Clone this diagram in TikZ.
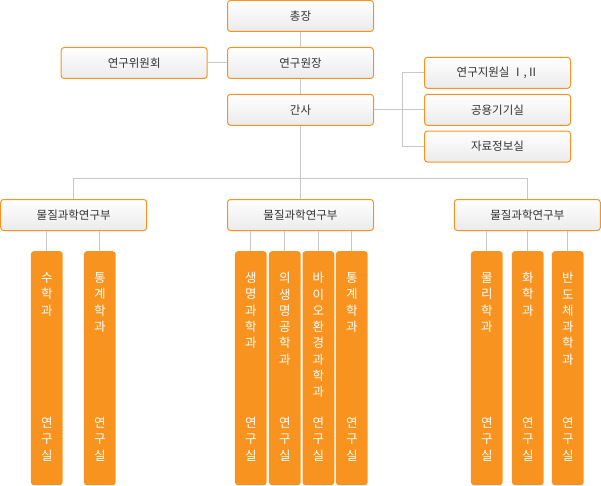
\documentclass[tikz,border=0pt]{standalone}
\usepackage{fontspec}
\setmainfont{Noto Sans CJK KR}
\definecolor{orgC}{HTML}{F7931E}
\definecolor{lineC}{HTML}{C8C8C8}
\definecolor{txtC}{HTML}{333333}
\begin{document}
\begin{tikzpicture}[x=1pt,y=-1pt,
  box/.style={draw=orgC, line width=1pt, rounded corners=3pt, minimum width=146pt, minimum height=31pt, inner sep=0pt, top color=white, bottom color=black!8, text=txtC, font=\fontsize{11.5pt}{14pt}\selectfont},
  bar/.style={fill=orgC, draw=none, rounded corners=3pt, minimum width=31.7pt, minimum height=234pt, inner sep=0pt, anchor=north},
  bartext/.style={text=white, align=center, inner sep=0pt, font=\fontsize{12.5pt}{16.3pt}\selectfont},
  conn/.style={draw=lineC, line width=1pt}
]
\useasboundingbox (0,0) rectangle (601,486);
% top boxes
\node[box] (pres) at (300.5,16) {총장};
\node[box] (dir) at (300.5,63) {연구원장};
\node[box] (comm) at (134.2,63) {연구위원회};
\node[box] (sec) at (300.5,109.8) {간사};
\node[box] (sup1) at (497.5,72.8) {연구지원실 Ⅰ,Ⅱ};
\node[box] (sup2) at (497.5,109.8) {공용기기실};
\node[box] (sup3) at (497.5,146.6) {자료정보실};
% division boxes
\node[box] (div1) at (73.7,215) {물질과학연구부};
\node[box] (div2) at (300.5,215) {물질과학연구부};
\node[box] (div3) at (527.3,215) {물질과학연구부};
\coordinate (jx) at (402,0);
\coordinate (bus) at (0,178.5);
% connectors top
\draw[conn] (pres) -- (dir);
\draw[conn] (comm) -- (dir);
\draw[conn] (dir) -- (sec);
\draw[conn] (sec.east) -- (sup2.west);
\draw[conn] (sup1.west) -- (sup1.west -| jx) -- (sup3.west -| jx) -- (sup3.west);
\draw[conn] (sec.south) -- (div2.north);
\draw[conn] (div1.north) -- (div1.north |- bus) -- (div3.north |- bus) -- (div3.north);
% bars
\node[bar] (b1) at (46.8,251) {};
\node[bar] (b2) at (99.8,251) {};
\node[bar] (b3) at (250.8,251) {};
\node[bar] (b4) at (284.8,251) {};
\node[bar] (b5) at (318.4,251) {};
\node[bar] (b6) at (351.8,251) {};
\node[bar] (b7) at (486.8,251) {};
\node[bar] (b8) at (527.8,251) {};
\node[bar] (b9) at (567.8,251) {};
% bar connectors
\foreach \b/\d in {b1/div1,b2/div1,b3/div2,b4/div2,b5/div2,b6/div2,b7/div3,b8/div3,b9/div3}
  \draw[conn] (\d.south -| \b.north) -- (\b.north);
% bar texts
\node[bartext] (t1) at (46.8,294.3) {수\\학\\과};
\node[bartext] (t2) at (99.8,302.5) {통\\계\\학\\과};
\node[bartext] (t3) at (250.8,310.6) {생\\명\\과\\학\\과};
\node[bartext] (t4) at (284.8,318.8) {의\\생\\명\\공\\학\\과};
\node[bartext] (t5) at (318.4,335.1) {바\\이\\오\\환\\경\\과\\학\\과};
\node[bartext] (t6) at (351.8,302.5) {통\\계\\학\\과};
\node[bartext] (t7) at (486.8,302.5) {물\\리\\학\\과};
\node[bartext] (t8) at (527.8,294.3) {화\\학\\과};
\node[bartext] (t9) at (567.8,318.8) {반\\도\\체\\과\\학\\과};
\foreach \x [count=\i] in {46.8,99.8,250.8,284.8,318.4,351.8,486.8,527.8,567.8}
  \node[bartext] (lab\i) at (\x,439) {연\\구\\실};
\end{tikzpicture}
\end{document}
